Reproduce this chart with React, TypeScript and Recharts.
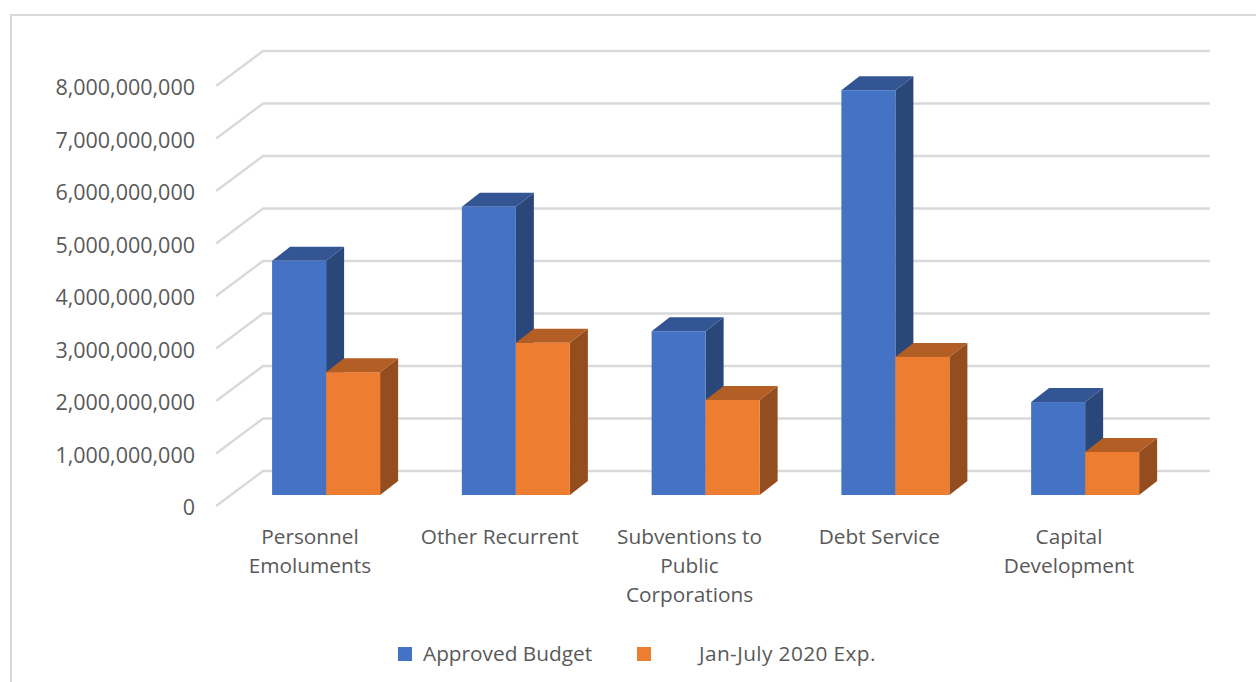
import React from 'react';
import { BarChart, Bar, XAxis, YAxis, CartesianGrid, Legend } from 'recharts';

const categories = [
  'Personnel Emoluments',
  'Other Recurrent',
  'Subventions to Public Corporations',
  'Debt Service',
  'Capital Development',
];
const approvedBudget = [4460000000, 5490000000, 3120000000, 7710000000, 1770000000];
const janJulyExp = [2340000000, 2900000000, 1810000000, 2630000000, 820000000];
const yTicks = [0, 1000000000, 2000000000, 3000000000, 4000000000, 5000000000, 6000000000, 7000000000, 8000000000];
const categoryLines: Record<string, string[]> = {
  'Personnel Emoluments': ['Personnel', 'Emoluments'],
  'Other Recurrent': ['Other Recurrent'],
  'Subventions to Public Corporations': ['Subventions to', 'Public', 'Corporations'],
  'Debt Service': ['Debt Service'],
  'Capital Development': ['Capital', 'Development'],
};

const chartData = categories.map((name, i) => ({
  name,
  approved: approvedBudget[i],
  expense: janJulyExp[i],
}));

const FONT = '"Open Sans", sans-serif';
const TEXT = '#595959';
const GRID = '#D9D9D9';
const DEPTH_X = 18;
const DEPTH_Y = 14;

// extruded bar, the side and top faces are offset from the front face
const Bar3D = (props: any) => {
  const { x, y, width, height, fill, sideFill, topFill } = props;
  const r = x + width;
  const b = y + height;
  return (
    <g>
      <polygon
        points={`${r},${y} ${r + DEPTH_X},${y - DEPTH_Y} ${r + DEPTH_X},${b - DEPTH_Y} ${r},${b}`}
        fill={sideFill}
      />
      <polygon
        points={`${x},${y} ${x + DEPTH_X},${y - DEPTH_Y} ${r + DEPTH_X},${y - DEPTH_Y} ${r},${y}`}
        fill={topFill}
      />
      <rect x={x} y={y} width={width} height={height} fill={fill} />
    </g>
  );
};

const GridLine3D = (props: any) => {
  const { x1, x2, y1 } = props;
  return (
    <polyline
      points={`${x1 - 15},${y1 + 11} ${x1 + 32},${y1 - 24} ${x2 + 30},${y1 - 24}`}
      fill="none"
      stroke={GRID}
      strokeWidth={2.5}
    />
  );
};

const YTick = ({ y, payload }: any) => (
  <text x={195} y={y + 20} textAnchor="end" fill={TEXT} fontFamily={FONT} fontSize={21.5}>
    {payload.value.toLocaleString('en-US')}
  </text>
);

const XTick = ({ x, payload }: any) => (
  <text textAnchor="middle" fill={TEXT} fontFamily={FONT} fontSize={20.8}>
    {categoryLines[payload.value].map((line, i) => (
      <tspan key={line} x={x - 16} y={544 + i * 29}>
        {line}
      </tspan>
    ))}
  </text>
);

const LegendContent = ({ payload }: any) => (
  <div style={{ position: 'relative', height: 30, fontFamily: FONT, fontSize: 20.8, color: TEXT }}>
    {(payload || []).map((entry: any, i: number) => (
      <React.Fragment key={entry.value}>
        <span
          style={{
            position: 'absolute',
            left: i === 0 ? 398 : 637,
            top: 8,
            width: 14,
            height: 14,
            background: entry.color,
          }}
        />
        <span
          style={{
            position: 'absolute',
            left: i === 0 ? 423 : 699,
            top: 0,
            lineHeight: '28px',
            whiteSpace: 'nowrap',
            letterSpacing: i === 0 ? 0 : 0.4,
          }}
        >
          {entry.value}
        </span>
      </React.Fragment>
    ))}
  </div>
);

export default function App() {
  return (
    <div style={{ position: 'absolute', left: 0, top: 0, width: 1256, height: 682, overflow: 'hidden', background: '#fff' }}>
      <div
        style={{
          position: 'absolute',
          left: 9.5,
          top: 14,
          right: 0,
          bottom: 0,
          borderLeft: `2px solid ${GRID}`,
          borderTop: `2px solid ${GRID}`,
        }}
      />
      <BarChart
        width={1256}
        height={682}
        data={chartData}
        barSize={54}
        barGap={0}
        margin={{ top: 45, right: 76.1, bottom: 0, left: 31.1 }}
        style={{ position: 'absolute', left: 0, top: 0 }}
      >
        <CartesianGrid vertical={false} horizontal={(p: any) => <GridLine3D key={p.key} {...p} />} />
        <XAxis
          dataKey="name"
          axisLine={false}
          tickLine={false}
          interval={0}
          height={187}
          tick={<XTick />}
        />
        <YAxis
          width={200}
          domain={[0, 8000000000]}
          ticks={yTicks}
          axisLine={false}
          tickLine={false}
          tick={<YTick />}
        />
        <Legend
          verticalAlign="top"
          content={<LegendContent />}
          wrapperStyle={{ position: 'absolute', left: 0, top: 639, width: 1256, height: 30 }}
        />
        <Bar
          dataKey="approved"
          name="Approved Budget"
          fill="#4472C4"
          isAnimationActive={false}
          shape={(p: any) => <Bar3D {...p} fill="#4472C4" sideFill="#2A4779" topFill="#335593" />}
        />
        <Bar
          dataKey="expense"
          name="Jan-July 2020 Exp."
          fill="#ED7D31"
          isAnimationActive={false}
          shape={(p: any) => <Bar3D {...p} fill="#ED7D31" sideFill="#934D1E" topFill="#B25E25" />}
        />
      </BarChart>
    </div>
  );
}
